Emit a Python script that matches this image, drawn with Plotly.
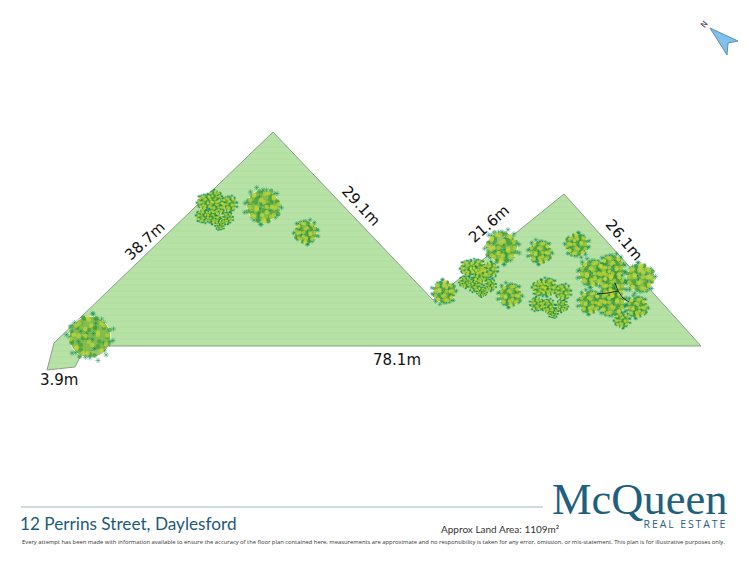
import plotly.graph_objects as go

# site outline, picture pixels
LOT_X = [47, 54, 273, 433, 564, 701, 110, 82, 75, 47]
LOT_Y = [370, 343, 132, 300, 194, 346, 346, 353, 367, 370]

COMPASS_X = [710, 738, 728, 727, 710]
COMPASS_Y = [28, 41, 43, 55, 28]

# tree crowns: each blob is one clump of leaves
BLOB_X = [90, 263, 306, 444, 502, 540, 577, 510,
          205, 215, 229, 217, 203, 213, 227, 220,
          468, 477, 490, 480, 465, 475, 490, 482,
          540, 548, 563, 537, 548, 562, 553,
          592, 612, 640, 613, 590, 612, 637, 622]
BLOB_Y = [337, 206, 232, 292, 247, 252, 245, 295,
          202, 197, 204, 207, 216, 217, 218, 225,
          268, 267, 270, 275, 282, 285, 285, 292,
          288, 287, 292, 304, 306, 306, 313,
          273, 267, 278, 285, 302, 303, 307, 320]
BLOB_R = [23, 18, 12, 12, 17, 12, 12, 12,
          8, 7, 8, 8, 7, 7, 6, 5,
          8, 8, 8, 8, 6, 7, 6, 5,
          8, 9, 8, 7, 7, 6, 5,
          14, 13, 15, 13, 12, 14, 11, 8]

# leaf positions inside a clump, as fractions of its radius
LIME_DX = [-0.6, -0.3, 0.1, 0.5, -0.7, -0.2, 0.35, 0.75, -0.45, 0.05, 0.5, -0.1]
LIME_DY = [-0.5, -0.7, -0.35, -0.6, 0.1, 0.05, 0.2, 0.05, 0.6, 0.5, 0.6, 0.85]
GREEN_DX = [-0.8, -0.4, 0.0, 0.4, 0.8, -0.55, -0.05, 0.6, -0.25, 0.25, 0.85, -0.85]
GREEN_DY = [-0.2, -0.35, -0.75, -0.2, -0.3, 0.4, 0.3, 0.4, 0.8, 0.8, 0.3, 0.45]
DARK_DX = [-0.2, 0.35, 1.0, 0.62, -0.9, -0.68, 0.1, 0.5, -0.1, 0.15, -0.5, 0.25, 0.6, -0.78]
DARK_DY = [-0.88, -1.02, -0.15, -0.6, 0.0, 0.62, 1.03, 0.78, -0.1, 0.15, -0.2, 0.4, -0.25, -0.7]

# branches of the big tree
BRANCH_X = [597, 608, 618, 623, 629, None, 618, 615]
BRANCH_Y = [294, 293, 291, 298, 302, None, 291, 283]

LABELS = ["38.7m", "29.1m", "21.6m", "26.1m", "78.1m", "3.9m"]
LABEL_X = [145, 361, 489, 624, 397, 59]
LABEL_Y = [241, 206, 224, 240, 360, 380]
LABEL_ANGLE = [-43, 47, -41, 50, 0, 0]


def leaves(dx, dy, scale):
    # motif used twice per clump, flipped differently from clump to clump
    xs, ys, sizes = [], [], []
    for i, (bx, by, br) in enumerate(zip(BLOB_X, BLOB_Y, BLOB_R)):
        sx = -1 if i % 2 else 1
        sy = -1 if i % 3 == 0 else 1
        for a, b in zip(dx, dy):
            xs += [bx + sx * a * br, bx - sx * b * br]
            ys += [by + sy * b * br, by + sy * a * br]
            sizes += [min(4.5, max(1.4, br * scale))] * 2
    return xs, ys, sizes


fig = go.Figure()

fig.add_trace(go.Scatter(
    x=LOT_X, y=LOT_Y, mode="lines", fill="toself",
    line=dict(color="#8a9f8c", width=1),
    fillcolor="#b6e3a5",
    fillpattern=dict(shape="-", bgcolor="#b6e3a5", fgcolor="#abd99a", size=6, solidity=0.2),
    hoverinfo="skip",
))

# crown base
fig.add_trace(go.Scatter(
    x=BLOB_X, y=BLOB_Y, mode="markers",
    marker=dict(size=[r * 1.8 for r in BLOB_R], color="#6fae2c", symbol="circle"),
    hoverinfo="skip",
))

# spiky dark leaves, these make the rough crown edge
xs, ys, sizes = leaves(DARK_DX, DARK_DY, 0.32)
fig.add_trace(go.Scatter(
    x=xs, y=ys, mode="markers",
    marker=dict(size=sizes, symbol="asterisk-open", color="#0b8a52",
                line=dict(color="#0b8a52", width=0.6)),
    hoverinfo="skip",
))

# lighter leaves go over the dark ones
for dx, dy, colour, scale in [(GREEN_DX, GREEN_DY, "#3f9d35", 0.26),
                              (LIME_DX, LIME_DY, "#c3d636", 0.3)]:
    xs, ys, sizes = leaves(dx, dy, scale)
    fig.add_trace(go.Scatter(
        x=xs, y=ys, mode="markers",
        marker=dict(size=sizes, color=colour, symbol="circle", line=dict(width=0)),
        hoverinfo="skip",
    ))

fig.add_trace(go.Scatter(
    x=BRANCH_X, y=BRANCH_Y, mode="lines",
    line=dict(color="#2a2a1a", width=1),
    hoverinfo="skip",
))

fig.add_trace(go.Scatter(
    x=COMPASS_X, y=COMPASS_Y, mode="lines", fill="toself",
    line=dict(color="#5b8fb0", width=1),
    fillcolor="#80c1ea",
    hoverinfo="skip",
))

for text, x, y, angle in zip(LABELS, LABEL_X, LABEL_Y, LABEL_ANGLE):
    fig.add_annotation(x=x, y=y, text=text, textangle=angle, showarrow=False,
                       font=dict(family="DejaVu Sans", size=15, color="#111111"))

fig.add_annotation(x=704, y=24, text="N", textangle=-52, showarrow=False,
                   font=dict(family="DejaVu Sans", size=8, color="#333333"))

# footer
fig.add_shape(type="line", x0=21, x1=543, y0=507, y1=507,
              line=dict(color="#9db6b8", width=1.2))
fig.add_annotation(x=18, y=523, text="12 Perrins Street, Daylesford", xanchor="left",
                   showarrow=False, font=dict(family="Lato", size=17.2, color="#1d5a78"))
fig.add_annotation(x=439, y=529, text="Approx Land Area: 1109m²", xanchor="left",
                   showarrow=False, font=dict(family="Lato", size=10, color="#333333"))
fig.add_annotation(x=550, y=499, text="McQueen", xanchor="left", showarrow=False,
                   font=dict(family="Liberation Serif", size=44.5, color="#1f607f"))
fig.add_annotation(x=719, y=524, text="REAL ESTATE", xanchor="right", showarrow=False,
                   font=dict(family="Open Sans", size=10.5, color="#1f607f"))
fig.add_annotation(x=373, y=542,
                   text="Every attempt has been made with information available to ensure the accuracy of the floor plan contained here, measurements are approximate and no responsibility is taken for any error, omission, or mis-statement. This plan is for illustrative purposes only.",
                   showarrow=False, font=dict(family="Open Sans", size=5.83, color="#333333"))

fig.update_xaxes(range=[0, 750], visible=False)
fig.update_yaxes(range=[562, 0], visible=False)
fig.update_layout(
    width=750, height=562,
    margin=dict(l=0, r=0, t=0, b=0),
    plot_bgcolor="white", paper_bgcolor="white",
    showlegend=False,
)

# body margin off, and the wide letter spacing of the logo line
POST = """
document.body.style.margin = '0';
document.querySelectorAll('.annotation-text').forEach(function (t) {
    if (t.textContent === 'REAL ESTATE') { t.style.letterSpacing = '1.9px'; }
});
"""
fig.write_html("out.html", config={"displayModeBar": False}, post_script=POST)
